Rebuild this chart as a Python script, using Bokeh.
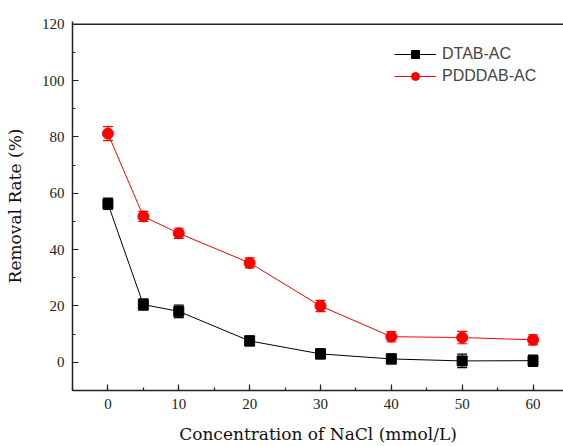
from bokeh.plotting import figure
from bokeh.models import (ColumnDataSource, Whisker, SingleIntervalTicker,
                          Legend, LegendItem, Range1d, Span)
from bokeh.embed import file_html
from bokeh.resources import INLINE

conc = [0, 5, 10, 20, 30, 40, 50, 60]
dtab = [56.3, 20.5, 18.1, 7.6, 3.0, 1.2, 0.5, 0.6]
dtab_err = [2.0, 2.0, 2.2, 1.8, 1.8, 1.8, 2.4, 2.0]
pdddab = [81.2, 51.8, 45.8, 35.3, 20.0, 9.1, 8.8, 8.0]
pdddab_err = [2.5, 1.8, 1.8, 1.8, 2.0, 1.8, 2.2, 1.8]
series_names = ["DTAB-AC", "PDDDAB-AC"]
x_label = "Concentration of NaCl (mmol/L)"
y_label = "Removal Rate (%)"
y_top = 120

tick_font = "Liberation Serif"
label_font = "DejaVu Serif"

p = figure(width=563, height=446, output_backend="svg", toolbar_location=None,
           x_range=Range1d(-5, 64.3), y_range=Range1d(-10, y_top + 1),
           min_border_left=72, min_border_right=0, min_border_top=21, min_border_bottom=53)
p.outline_line_color = None
p.grid.visible = False
p.background_fill_color = "white"
p.border_fill_color = "white"

p.xaxis.ticker = SingleIntervalTicker(interval=10, num_minor_ticks=2)
p.yaxis.ticker = SingleIntervalTicker(interval=20, num_minor_ticks=2)

for ax in list(p.xaxis) + list(p.yaxis):
    ax.major_tick_in = 6
    ax.major_tick_out = 0
    ax.minor_tick_in = 3
    ax.minor_tick_out = 0
    ax.axis_line_width = 1.5
    ax.major_tick_line_width = 1.2
    ax.minor_tick_line_width = 1.2
    ax.axis_line_color = "#222222"
    ax.major_tick_line_color = "#222222"
    ax.minor_tick_line_color = "#222222"
    ax.major_label_text_font = tick_font
    ax.major_label_text_font_size = "15px"
    ax.major_label_text_color = "#222222"
    ax.axis_label_text_font = label_font
    ax.axis_label_text_font_size = "17px"
    ax.axis_label_text_font_style = "normal"
    ax.axis_label_text_color = "#111111"

p.xaxis.axis_label = x_label
p.yaxis.axis_label = y_label
p.xaxis.major_label_standoff = 8
p.yaxis.major_label_standoff = 8
p.xaxis.axis_label_standoff = 12
p.yaxis.axis_label_standoff = 14

top_line = Span(location=y_top, dimension="width", line_color="#222222", line_width=1.5)
p.add_layout(top_line)

src_d = ColumnDataSource(dict(x=conc, y=dtab,
                              lo=[v - e for v, e in zip(dtab, dtab_err)],
                              hi=[v + e for v, e in zip(dtab, dtab_err)]))
src_p = ColumnDataSource(dict(x=conc, y=pdddab,
                              lo=[v - e for v, e in zip(pdddab, pdddab_err)],
                              hi=[v + e for v, e in zip(pdddab, pdddab_err)]))

ld = p.line("x", "y", source=src_d, line_color="black", line_width=1)
sd = p.scatter("x", "y", source=src_d, marker="square", size=10, color="black")
lp = p.line("x", "y", source=src_p, line_color="red", line_width=1)
sp = p.scatter("x", "y", source=src_p, marker="circle", size=11, color="red")

for src, col in [(src_d, "black"), (src_p, "red")]:
    w = Whisker(source=src, base="x", lower="lo", upper="hi", line_color=col, line_width=1.2)
    w.upper_head.size = 10
    w.lower_head.size = 10
    w.upper_head.line_color = col
    w.lower_head.line_color = col
    w.upper_head.line_width = 1.2
    w.lower_head.line_width = 1.2
    p.add_layout(w)

legend = Legend(items=[LegendItem(label=series_names[0], renderers=[ld, sd]),
                       LegendItem(label=series_names[1], renderers=[lp, sp])],
                label_text_font="Liberation Sans",
                label_text_font_size="16px", border_line_color=None,
                background_fill_alpha=0, glyph_width=42, label_standoff=6,
                spacing=2, padding=4, margin=0)
legend.location = (322, 304)
p.add_layout(legend, "center")

html = file_html(p, INLINE)
open("out.html", "w").write(html)
